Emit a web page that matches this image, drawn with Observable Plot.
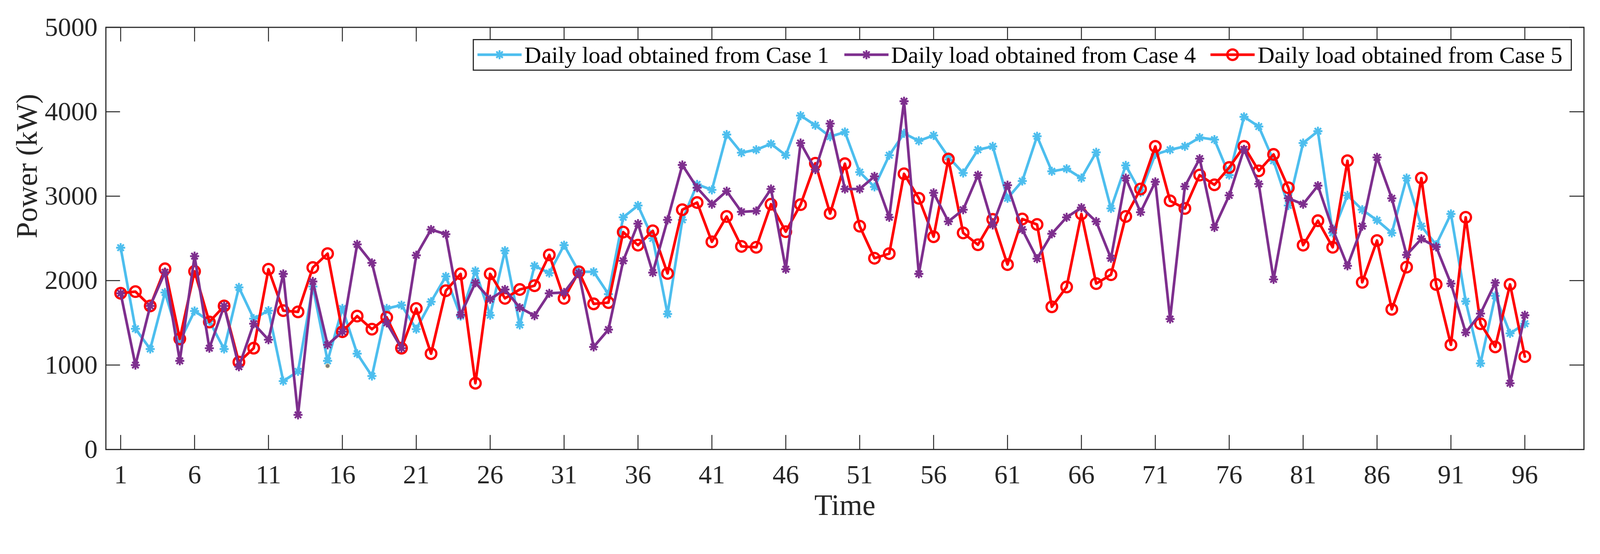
<!DOCTYPE html>
<html>
<head>
<meta charset="utf-8">
<script src="https://cdn.jsdelivr.net/npm/d3@7"></script>
<script src="https://cdn.jsdelivr.net/npm/@observablehq/plot@0.6"></script>
<style>
  html, body { margin: 0; padding: 0; background: white; }
  #chart svg { display: block; }
</style>
</head>
<body>
<div id="chart"></div>
<script>
// Daily load (kW) per 15-minute time slot

const timeSlots = d3.range(1, 97);

const case1Load = [
  2390, 1430, 1190, 1860, 1280, 1640, 1520, 1190, 1920, 1550,
  1645, 810, 925, 1930, 1050, 1670, 1135, 870, 1670, 1710,
  1425, 1750, 2050, 1580, 2115, 1590, 2355, 1475, 2175, 2090,
  2420, 2105, 2105, 1840, 2750, 2890, 2500, 1605, 2720, 3140,
  3075, 3730, 3515, 3550, 3620, 3485, 3955, 3840, 3705, 3760,
  3285, 3110, 3485, 3745, 3655, 3720, 3465, 3275, 3550, 3590,
  2975, 3180, 3710, 3295, 3325, 3215, 3520, 2855, 3365, 3045,
  3495, 3550, 3590, 3695, 3670, 3250, 3940, 3825, 3420, 2890,
  3630, 3770, 2565, 3010, 2840, 2715, 2565, 3215, 2645, 2425,
  2790, 1755, 1020, 1820, 1375, 1490
];

const case4Load = [
  1850, 1000, 1700, 2100, 1050, 2290, 1200, 1700, 980, 1490,
  1300, 2080, 410, 1990, 1240, 1395, 2430, 2210, 1500, 1200,
  2300, 2605, 2550, 1595, 1975, 1780, 1895, 1680, 1585, 1850,
  1860, 2090, 1215, 1420, 2235, 2675, 2095, 2720, 3370, 3100,
  2905, 3060, 2815, 2825, 3085, 2135, 3630, 3315, 3860, 3085,
  3085, 3235, 2750, 4125, 2080, 3040, 2700, 2840, 3250, 2660,
  3130, 2605, 2260, 2555, 2750, 2865, 2700, 2265, 3215, 2810,
  3170, 1545, 3115, 3445, 2630, 3010, 3555, 3145, 2015, 2975,
  2905, 3125, 2610, 2175, 2645, 3460, 2975, 2305, 2495, 2400,
  1965, 1385, 1610, 1975, 785, 1590
];

const case5Load = [
  1850, 1870, 1700, 2140, 1310, 2110, 1510, 1700, 1035, 1200,
  2135, 1645, 1630, 2155, 2320, 1395, 1580, 1425, 1565, 1200,
  1670, 1135, 1880, 2080, 785, 2080, 1790, 1895, 1940, 2305,
  1790, 2105, 1725, 1740, 2575, 2420, 2590, 2085, 2840, 2925,
  2460, 2760, 2405, 2395, 2905, 2580, 2900, 3390, 2795, 3385,
  2645, 2265, 2320, 3265, 2975, 2520, 3440, 2565, 2425, 2725,
  2190, 2730, 2665, 1690, 1925, 2790, 1965, 2070, 2760, 3085,
  3590, 2945, 2855, 3250, 3135, 3340, 3590, 3300, 3495, 3100,
  2420, 2710, 2395, 3420, 1980, 2475, 1660, 2160, 3215, 1955,
  1240, 2750, 1490, 1215, 1955, 1100
];

// small grey speck visible near slot 15
const strayDotTime = [15];
const strayDotLoad = [990];

const xTicks = [1, 6, 11, 16, 21, 26, 31, 36, 41, 46, 51, 56, 61, 66, 71, 76, 81, 86, 91, 96];
const yTicks = [0, 1000, 2000, 3000, 4000, 5000];

const seriesNames = [
  "Daily load obtained from Case 1",
  "Daily load obtained from Case 4",
  "Daily load obtained from Case 5"
];

const CYAN = "#4DBEEE";
const PURPLE = "#7E2F8E";
const RED = "#FF0000";
const AXIS = "#262626";
const FONT = "'Liberation Serif', 'Times New Roman', serif";

// MATLAB style '*' marker as a custom d3 symbol
const asterisk = {
  draw(context, size) {
    const r = Math.sqrt(size / Math.PI);
    const d = r * 0.7071;
    context.moveTo(-r, 0); context.lineTo(r, 0);
    context.moveTo(0, -r); context.lineTo(0, r);
    context.moveTo(-d, -d); context.lineTo(d, d);
    context.moveTo(-d, d); context.lineTo(d, -d);
  }
};

/**
 * Draw the load comparison chart
 */
function drawChart() {
    const width = 4239;
    const height = 1419;
    const margin = {top: 72, right: 43, bottom: 228, left: 280};
    const plotW = width - margin.left - margin.right;
    const plotH = height - margin.top - margin.bottom;
    const tickLen = 38;

    const rows = timeSlots.map((t, i) => ({
        time: t,
        case1: case1Load[i],
        case4: case4Load[i],
        case5: case5Load[i]
    }));
    const stray = strayDotTime.map((t, i) => ({time: t, load: strayDotLoad[i]}));

    const lineStyle = {strokeWidth: 7, strokeLinejoin: "round"};

    const plot = Plot.plot({
        width: width,
        height: height,
        marginTop: margin.top,
        marginRight: margin.right,
        marginBottom: margin.bottom,
        marginLeft: margin.left,
        style: {fontFamily: FONT, color: AXIS, background: "white"},
        x: {domain: [0, 100]},
        y: {domain: [0, 5000]},
        marks: [
            // inward ticks on all four sides
            Plot.tickX(xTicks, {x: (d) => d, insetTop: plotH - tickLen, stroke: AXIS, strokeWidth: 2.5}),
            Plot.tickX(xTicks, {x: (d) => d, insetBottom: plotH - tickLen, stroke: AXIS, strokeWidth: 2.5}),
            Plot.tickY(yTicks, {y: (d) => d, insetRight: plotW - tickLen, stroke: AXIS, strokeWidth: 2.5}),
            Plot.tickY(yTicks, {y: (d) => d, insetLeft: plotW - tickLen, stroke: AXIS, strokeWidth: 2.5}),
            Plot.axisX(xTicks, {anchor: "bottom", tickSize: 0, tickPadding: 40, fontSize: 70, label: null, tickFormat: "d"}),
            Plot.axisY(yTicks, {anchor: "left", tickSize: 0, tickPadding: 22, fontSize: 70, label: null, tickFormat: "d"}),
            // Case 1
            Plot.line(rows, {x: "time", y: "case1", stroke: CYAN, ...lineStyle}),
            Plot.dot(rows, {x: "time", y: "case1", symbol: asterisk, r: 12, stroke: CYAN, strokeWidth: 5, fill: "none"}),
            // Case 5
            Plot.line(rows, {x: "time", y: "case5", stroke: RED, ...lineStyle}),
            Plot.dot(rows, {x: "time", y: "case5", r: 14, stroke: RED, strokeWidth: 6, fill: "none"}),
            // Case 4
            Plot.line(rows, {x: "time", y: "case4", stroke: PURPLE, ...lineStyle}),
            Plot.dot(rows, {x: "time", y: "case4", symbol: asterisk, r: 12, stroke: PURPLE, strokeWidth: 5, fill: "none"}),
            Plot.dot(stray, {x: "time", y: "load", r: 6, fill: "#7f7f7f", stroke: "#f4f0c0", strokeWidth: 1.5}),
            Plot.frame({stroke: AXIS, strokeWidth: 3}),
            // axis titles
            Plot.text(["Time"], {frameAnchor: "bottom", dy: 174, fontSize: 78, fill: AXIS}),
            Plot.text(["Power (kW)"], {frameAnchor: "left", dx: -208, rotate: -90, fontSize: 78, fill: AXIS})
        ]
    });

    addLegend(plot);
    document.getElementById('chart').appendChild(plot);
}

/**
 * Boxed legend in the top right corner of the axes, like the MATLAB one
 * @param {SVGElement} svg - the plot svg
 */
function addLegend(svg) {
    const colors = [CYAN, PURPLE, RED];
    const sampleX = [1265, 2237, 3207];
    const textX = [1389, 2361, 3332];
    const sampleLen = 117;
    const cy = 145;

    const g = d3.select(svg).append("g")
        .attr("font-family", FONT)
        .attr("text-anchor", "start");

    g.append("rect")
        .attr("x", 1254).attr("y", 105)
        .attr("width", 4163 - 1254).attr("height", 186 - 105)
        .attr("fill", "white")
        .attr("stroke", AXIS)
        .attr("stroke-width", 3);

    seriesNames.forEach((name, i) => {
        g.append("line")
            .attr("x1", sampleX[i]).attr("x2", sampleX[i] + sampleLen)
            .attr("y1", cy).attr("y2", cy)
            .attr("stroke", colors[i])
            .attr("stroke-width", 7);
        const mx = sampleX[i] + sampleLen / 2;
        if (i === 2) {
            g.append("circle")
                .attr("cx", mx).attr("cy", cy).attr("r", 14)
                .attr("fill", "none")
                .attr("stroke", colors[i])
                .attr("stroke-width", 6);
        } else {
            g.append("path")
                .attr("d", d3.symbol(asterisk, Math.PI * 12 * 12)())
                .attr("transform", `translate(${mx},${cy})`)
                .attr("fill", "none")
                .attr("stroke", colors[i])
                .attr("stroke-width", 5);
        }
        g.append("text")
            .attr("x", textX[i]).attr("y", 167)
            .attr("font-size", 62)
            .attr("fill", "black")
            .text(name);
    });
}

drawChart();
</script>
</body>
</html>
